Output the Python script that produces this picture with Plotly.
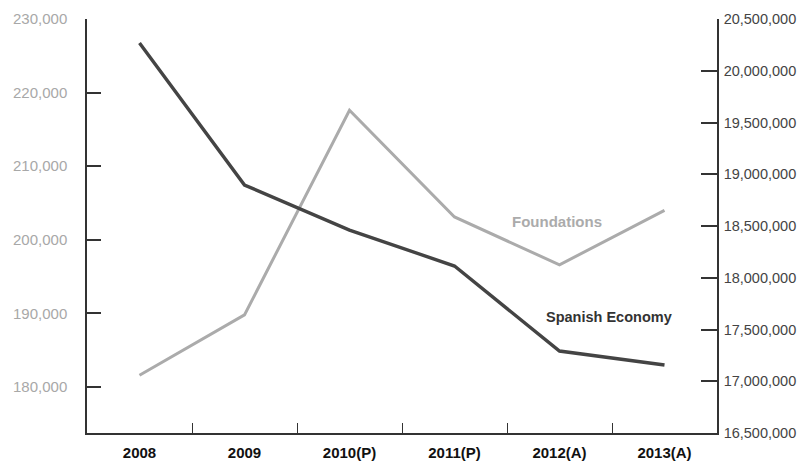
import plotly.graph_objects as go

categories = ["2008", "2009", "2010(P)", "2011(P)", "2012(A)", "2013(A)"]
foundations = [181600, 189800, 217600, 203100, 196600, 204000]
spanish_economy = [20268000, 18896000, 18461000, 18113000, 17292000, 17157000]
left_ticks = [180000, 190000, 200000, 210000, 220000, 230000]
right_ticks = [16500000, 17000000, 17500000, 18000000, 18500000,
               19000000, 19500000, 20000000, 20500000]

fig = go.Figure()
fig.add_trace(go.Scatter(x=categories, y=foundations, mode="lines",
                         line=dict(color="#ababab", width=3), name="Foundations",
                         yaxis="y"))
fig.add_trace(go.Scatter(x=categories, y=spanish_economy, mode="lines",
                         line=dict(color="#444444", width=3.4), name="Spanish Economy",
                         yaxis="y2"))

# the page adds an 8px body margin, so the figure is sized to fill the rest
fig.update_layout(
    width=798, height=455,
    margin=dict(l=79, r=89, t=11, b=30, autoexpand=False),
    paper_bgcolor="white", plot_bgcolor="white",
    showlegend=False,
    font=dict(family="Liberation Sans, Arial, sans-serif"),
    xaxis=dict(type="category", range=[-0.5, 5.5], showline=True, linecolor="#333",
               linewidth=1.5, ticks="inside", tickson="boundaries", ticklen=10,
               tickcolor="#333", tickwidth=1, showgrid=False, zeroline=False,
               automargin=False,
               tickfont=dict(size=15, color="#111", weight="bold"),
               ticklabelstandoff=5),
    yaxis=dict(range=[173750, 230000], tickvals=left_ticks, tickformat=",",
               showline=True, linecolor="#333", linewidth=1.5, ticks="inside",
               ticklen=14, tickcolor="#333", tickwidth=1.5, showgrid=False,
               zeroline=False, automargin=False,
               tickfont=dict(size=15, color="#a8a8a8"),
               ticklabelstandoff=15),
    yaxis2=dict(range=[16500000, 20500000], tickvals=right_ticks, tickformat=",",
                overlaying="y", side="right", showline=True, linecolor="#333",
                linewidth=1.5, ticks="inside", ticklen=16, tickcolor="#333",
                tickwidth=1.5, showgrid=False, zeroline=False, automargin=False,
                tickfont=dict(size=14.5, color="#444"), ticklabelstandoff=2),
    annotations=[
        dict(text="Foundations", xref="paper", yref="paper", x=0.746, y=0.51,
             xanchor="center", yanchor="middle", showarrow=False,
             font=dict(size=15, color="#ababab", weight="bold")),
        dict(text="Spanish Economy", xref="paper", yref="paper", x=0.829, y=0.28,
             xanchor="center", yanchor="middle", showarrow=False,
             font=dict(size=14.5, color="#333", weight="bold")),
    ],
)

fig.write_html("out.html")
